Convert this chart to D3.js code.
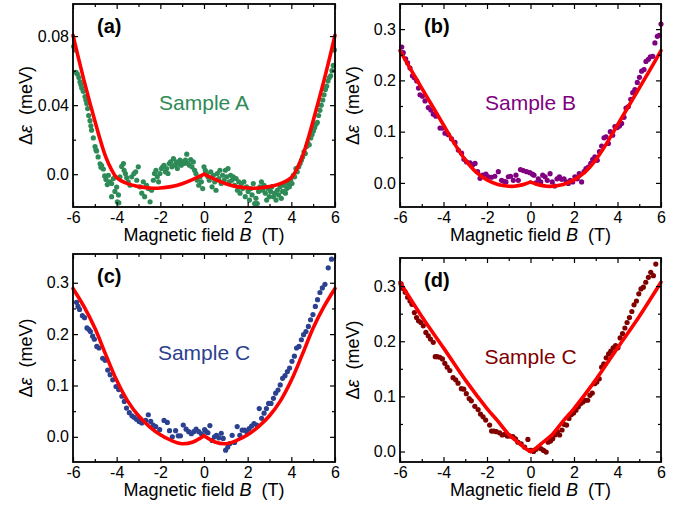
<!DOCTYPE html>
<html>
<head>
<meta charset="utf-8">
<script src="https://cdn.jsdelivr.net/npm/d3@7"></script>
<style>
  html, body { margin: 0; padding: 0; background: #fff; }
  svg { display: block; font-family: "Liberation Sans", Arial, Helvetica, sans-serif; }
</style>
</head>
<body>
<svg id="chart" width="677" height="509"></svg>
<script>
/* ---------- tick values ---------- */
const xMajor = [-6, -4, -2, 0, 2, 4, 6];
const xMinor = [-5, -3, -1, 1, 3, 5];
const yMajorA = [0, 0.04, 0.08];
const yMinorA = [0.02, 0.06];
const yLabelsA = ["0.0", "0.04", "0.08"];
const yMajorBCD = [0, 0.1, 0.2, 0.3];
const yMinorBCD = [0.05, 0.15, 0.25];
const yLabelsBCD = ["0.0", "0.1", "0.2", "0.3"];

/* ---------- measured points [B (T), delta eps (meV)] ---------- */
const sampleA = [
  [-5.97,0.074],[-5.91,0.072],[-5.86,0.059],[-5.80,0.058],[-5.73,0.056],[-5.68,0.0535],[-5.64,0.052],[-5.60,0.050],
  [-5.53,0.048],[-5.45,0.045],[-5.41,0.043],[-5.37,0.041],[-5.33,0.038],[-5.28,0.034],[-5.22,0.031],[-5.18,0.028],
  [-5.15,0.0255],[-5.07,0.021],[-4.99,0.016],[-4.95,0.014],[-4.92,0.0135],[-4.85,0.010],[-4.76,0.006],[-4.72,0.004],
  [-4.69,0.005],[-4.61,0.003],[-4.55,-0.001],[-4.49,-0.003],[-4.43,-0.006],[-4.38,-0.0006],[-4.31,-0.0045],[-4.23,-0.0054],
  [-4.23,-0.013],[-4.15,-0.0025],[-4.08,-0.010],[-4.0,-0.0074],[-3.97,-0.016],[-3.92,-0.012],[-3.90,-0.0166],[-3.85,-0.0015],
  [-3.77,0.0045],[-3.69,0.0062],[-3.66,0.0023],[-3.60,0.0004],[-3.54,-0.002],[-3.47,-0.0045],[-3.39,-0.0064],[-3.31,-0.0015],
  [-3.21,0.0004],[-3.13,0.0014],[-3.08,-0.0035],[-3.01,0.0043],[-2.93,-0.0073],[-2.85,-0.011],[-2.78,-0.0044],[-2.72,-0.013],
  [-2.63,-0.0064],[-2.55,-0.0083],[-2.47,-0.016],[-2.40,-0.0093],[-2.32,-0.0035],[-2.27,0.0004],[-2.20,0.0023],[-2.14,-0.0015],
  [-2.08,-0.0044],[-2.02,0.0004],[-1.95,0.0033],[-1.89,0.0043],[-1.83,0.0052],[-1.77,0.0014],[-1.71,0.0033],[-1.65,0.0004],
  [-1.59,0.0062],[-1.53,0.0071],[-1.47,0.0043],[-1.40,0.0091],[-1.34,0.0052],[-1.28,0.0071],[-1.22,0.0033],[-1.16,0.0062],
  [-1.10,0.0081],[-1.04,0.0052],[-0.98,0.0071],[-0.92,0.0062],[-0.85,0.0081],[-0.79,0.0116],[-0.73,0.0062],[-0.67,0.0052],
  [-0.61,0.0085],[-0.55,0.0043],[-0.49,0.0071],[-0.43,0.0023],[-0.37,0.0004],[-0.31,-0.0035],[-0.24,-0.0064],[-0.18,-0.0015],
  [-0.12,-0.0044],[-0.06,-0.0083],[0.0,0.0043],[0.06,0.0023],[0.12,0.0004],[0.18,-0.0015],[0.24,-0.0035],[0.31,0.0014],
  [0.37,-0.0073],[0.43,-0.0006],[0.49,-0.0044],[0.55,-0.0093],[0.61,0.0004],[0.67,-0.0025],[0.73,0.0023],[0.79,-0.0054],
  [0.85,-0.0006],[0.92,-0.0035],[0.98,0.0023],[1.04,-0.0015],[1.10,0.0033],[1.16,-0.0044],[1.22,-0.0006],[1.28,-0.0035],
  [1.34,-0.0015],[1.40,-0.0064],[1.47,-0.0025],[1.53,-0.0093],[1.59,-0.0044],[1.65,-0.011],[1.71,-0.0054],[1.77,-0.0083],
  [1.83,-0.0044],[1.89,-0.013],[1.95,-0.0073],[2.02,-0.010],[2.08,-0.015],[2.14,-0.0083],[2.20,-0.012],[2.26,-0.0054],
  [2.32,-0.017],[2.38,-0.014],[2.44,-0.017],[2.50,-0.010],[2.56,-0.0073],[2.63,-0.0044],[2.69,-0.0093],[2.75,-0.0064],
  [2.81,-0.011],[2.87,-0.015],[2.93,-0.0083],[2.99,-0.013],[3.05,-0.010],[3.11,-0.0073],[3.18,-0.013],[3.24,-0.011],
  [3.30,-0.015],[3.36,-0.0093],[3.42,-0.012],[3.48,-0.0073],[3.54,-0.014],[3.60,-0.010],[3.66,-0.0064],[3.73,-0.011],
  [3.79,-0.0083],[3.85,-0.0054],[3.91,-0.0073],[3.97,-0.0035],[4.03,-0.0054],[4.09,-0.0006],[4.15,-0.0015],[4.21,0.0033],
  [4.27,0.0014],[4.34,0.0043],[4.40,0.0062],[4.46,0.0081],[4.52,0.010],[4.58,0.013],[4.64,0.012],[4.70,0.016],
  [4.76,0.018],[4.82,0.017],[4.89,0.021],[4.95,0.023],[5.01,0.025],[5.07,0.027],[5.13,0.029],[5.19,0.030],
  [5.25,0.034],[5.31,0.037],[5.37,0.040],[5.44,0.043],[5.50,0.046],[5.56,0.049],[5.62,0.051],[5.68,0.054],
  [5.74,0.056],[5.80,0.057],[5.86,0.060],[5.92,0.063],[5.97,0.072]
];

const sampleB = [
  [-5.92,0.265],[-5.85,0.254],[-5.74,0.242],[-5.65,0.234],[-5.54,0.224],[-5.43,0.209],[-5.34,0.205],[-5.23,0.199],
  [-5.15,0.185],[-5.08,0.172],[-4.97,0.169],[-4.85,0.160],[-4.70,0.147],[-4.58,0.142],[-4.47,0.134],[-4.35,0.130],
  [-4.16,0.107],[-4.04,0.107],[-3.93,0.097],[-3.78,0.094],[-3.63,0.086],[-3.47,0.079],[-3.32,0.064],[-3.17,0.058],
  [-3.06,0.046],[-2.94,0.041],[-2.78,0.039],[-2.66,0.035],[-2.55,0.038],[-2.43,0.022],[-2.32,0.009],[-2.20,0.015],
  [-2.05,0.017],[-1.94,0.012],[-1.79,0.011],[-1.64,0.013],[-1.48,0.022],[-1.33,0.005],[-1.22,0.003],[-1.13,0.002],
  [-1.02,0.012],[-0.92,0.013],[-0.79,0.005],[-0.67,0.015],[-0.56,0.005],[-0.46,0.026],[-0.33,0.024],[-0.18,0.022],
  [-0.03,0.020],[0.09,0.017],[0.16,0.015],[0.25,0.0],[0.36,0.008],[0.47,0.002],[0.56,0.015],[0.67,0.012],
  [0.77,0.005],[0.90,0.018],[1.0,0.002],[1.11,-0.006],[1.22,0.008],[1.33,0.012],[1.43,0.007],[1.54,0.008],
  [1.65,0.002],[1.74,-0.001],[1.83,0.005],[1.94,0.002],[2.04,0.012],[2.15,0.008],[2.24,0.018],[2.35,0.002],
  [2.46,0.022],[2.55,0.028],[2.66,0.031],[2.77,0.038],[2.86,0.046],[2.96,0.051],[3.07,0.044],[3.17,0.061],
  [3.27,0.072],[3.38,0.088],[3.47,0.090],[3.58,0.077],[3.67,0.100],[3.78,0.093],[3.88,0.110],[3.99,0.108],
  [4.09,0.111],[4.19,0.116],[4.30,0.128],[4.39,0.146],[4.50,0.149],[4.61,0.163],[4.70,0.176],[4.80,0.182],
  [4.91,0.196],[5.01,0.206],[5.11,0.218],[5.22,0.221],[5.31,0.237],[5.42,0.241],[5.51,0.246],[5.62,0.247],
  [5.72,0.273],[5.83,0.286],[5.92,0.288],[6.0,0.310]
];

const sampleC = [
  [-5.84,0.262],[-5.77,0.254],[-5.70,0.248],[-5.57,0.236],[-5.47,0.232],[-5.36,0.212],[-5.27,0.209],[-5.20,0.205],
  [-5.10,0.196],[-5.02,0.190],[-4.91,0.176],[-4.81,0.173],[-4.64,0.153],[-4.53,0.149],[-4.41,0.130],[-4.30,0.121],
  [-4.18,0.111],[-4.03,0.098],[-3.91,0.092],[-3.76,0.079],[-3.65,0.069],[-3.55,0.056],[-3.42,0.047],[-3.30,0.041],
  [-3.20,0.038],[-3.09,0.034],[-2.97,0.030],[-2.85,0.027],[-2.67,0.032],[-2.55,0.043],[-2.44,0.030],[-2.33,0.023],
  [-2.21,0.020],[-2.03,0.014],[-1.83,0.032],[-1.68,0.028],[-1.58,0.012],[-1.45,0.0],[-1.30,0.012],[-1.18,0.002],
  [-1.08,0.002],[-0.95,0.023],[-0.82,0.015],[-0.70,0.010],[-0.58,0.006],[-0.47,0.010],[-0.36,0.015],[-0.24,0.010],
  [-0.12,0.006],[0.03,0.014],[0.10,0.010],[0.18,0.008],[0.27,0.022],[0.37,-0.007],[0.48,0.0],[0.57,0.003],
  [0.68,-0.002],[0.79,0.007],[0.88,-0.003],[0.99,-0.026],[1.09,-0.020],[1.19,-0.013],[1.29,0.003],[1.40,-0.011],
  [1.52,0.020],[1.64,0.003],[1.75,0.013],[1.86,0.013],[1.96,0.010],[2.07,0.016],[2.18,0.021],[2.29,0.026],
  [2.41,0.023],[2.53,0.055],[2.64,0.036],[2.75,0.046],[2.86,0.055],[2.96,0.065],[3.07,0.065],[3.18,0.075],
  [3.28,0.085],[3.39,0.091],[3.49,0.101],[3.60,0.114],[3.71,0.119],[3.82,0.127],[3.92,0.134],[4.03,0.147],
  [4.14,0.157],[4.24,0.173],[4.35,0.176],[4.46,0.189],[4.56,0.199],[4.67,0.205],[4.78,0.215],[4.88,0.228],
  [4.99,0.238],[5.10,0.254],[5.20,0.267],[5.31,0.281],[5.42,0.290],[5.54,0.297],[5.69,0.329],[5.84,0.346]
];

const sampleD = [
  [-5.95,0.304],[-5.88,0.296],[-5.76,0.289],[-5.65,0.280],[-5.54,0.273],[-5.45,0.267],[-5.34,0.252],[-5.24,0.243],
  [-5.15,0.237],[-5.04,0.234],[-4.93,0.228],[-4.81,0.216],[-4.70,0.210],[-4.60,0.204],[-4.47,0.198],[-4.38,0.172],
  [-4.29,0.172],[-4.17,0.171],[-4.05,0.168],[-3.94,0.160],[-3.83,0.153],[-3.71,0.147],[-3.56,0.134],[-3.44,0.130],
  [-3.33,0.124],[-3.18,0.114],[-3.07,0.113],[-2.95,0.105],[-2.82,0.096],[-2.72,0.092],[-2.56,0.082],[-2.41,0.076],
  [-2.30,0.068],[-2.18,0.063],[-2.06,0.057],[-1.88,0.048],[-1.79,0.037],[-1.69,0.037],[-1.57,0.036],[-1.42,0.034],
  [-1.30,0.030],[-1.19,0.031],[-1.07,0.028],[-0.96,0.028],[-0.81,0.027],[-0.69,0.023],[-0.58,0.017],[-0.43,0.014],
  [-0.27,0.008],[-0.12,0.022],[-0.02,0.002],[0.05,0.002],[0.14,0.0],[0.26,0.004],[0.38,0.008],[0.49,0.005],
  [0.60,0.002],[0.72,-0.001],[0.81,0.017],[0.92,0.019],[1.02,0.023],[1.13,0.030],[1.24,0.036],[1.34,0.030],
  [1.45,0.039],[1.56,0.049],[1.66,0.048],[1.77,0.060],[1.88,0.067],[1.98,0.070],[2.09,0.075],[2.20,0.081],
  [2.31,0.087],[2.41,0.090],[2.52,0.093],[2.63,0.093],[2.73,0.102],[2.84,0.106],[2.95,0.123],[3.05,0.126],
  [3.16,0.132],[3.27,0.153],[3.37,0.159],[3.48,0.170],[3.59,0.177],[3.69,0.182],[3.80,0.188],[3.91,0.192],
  [4.02,0.188],[4.12,0.206],[4.23,0.214],[4.34,0.224],[4.44,0.234],[4.55,0.243],[4.66,0.254],[4.76,0.266],
  [4.87,0.273],[4.98,0.286],[5.08,0.295],[5.19,0.298],[5.30,0.307],[5.42,0.316],[5.53,0.325],[5.65,0.319],
  [5.76,0.340]
];

/* ---------- fit curves (red) ---------- */
const fitA = [
  [-6,0.0805],[-5.75,0.0672],[-5.5,0.0545],[-5.25,0.0425],[-5,0.031],[-4.75,0.0198],[-4.5,0.010],[-4.25,0.003],
  [-4,-0.002],[-3.5,-0.0055],[-3,-0.0072],[-2.5,-0.008],[-2,-0.008],[-1.5,-0.0072],[-1,-0.0055],[-0.5,-0.003],[0,0],
  [0.5,-0.003],[1,-0.0055],[1.5,-0.0072],[2,-0.008],[2.5,-0.008],[3,-0.0072],[3.5,-0.0055],[4,-0.002],
  [4.25,0.003],[4.5,0.010],[4.75,0.0198],[5,0.031],[5.25,0.0425],[5.5,0.0545],[5.75,0.0672],[6,0.0805]
];
const fitB = [
  [-6,0.258],[-5.5,0.221],[-5,0.185],[-4.5,0.149],[-4,0.113],[-3.5,0.077],[-3,0.045],[-2.5,0.021],[-2,0.006],
  [-1.5,-0.003],[-1,-0.0065],[-0.75,-0.0065],[-0.5,-0.0048],[-0.25,-0.002],[0,0.0015],
  [0.25,-0.002],[0.5,-0.0048],[0.75,-0.0065],[1,-0.0065],[1.5,-0.003],[2,0.006],[2.5,0.021],[3,0.045],
  [3.5,0.077],[4,0.113],[4.5,0.149],[5,0.185],[5.5,0.221],[6,0.258]
];
const fitC = [
  [-6,0.289],[-5.5,0.254],[-5,0.212],[-4.5,0.160],[-4,0.110],[-3.5,0.070],[-3,0.041],[-2.5,0.020],[-2,0.004],
  [-1.5,-0.007],[-1,-0.0135],[-0.5,-0.010],[0,0.002],
  [0.5,-0.010],[1,-0.0135],[1.5,-0.007],[2,0.004],[2.5,0.020],[3,0.041],[3.5,0.070],[4,0.110],[4.5,0.160],
  [5,0.212],[5.5,0.254],[6,0.289]
];
const fitD = [
  [-6,0.307],[-5,0.245],[-4,0.188],[-3,0.130],[-2,0.078],[-1.5,0.055],[-1,0.031],[-0.5,0.0145],[-0.25,0.006],[0,0.0],
  [0.25,0.006],[0.5,0.0145],[1,0.031],[1.5,0.055],[2,0.078],[3,0.130],[4,0.188],[5,0.245],[6,0.307]
];

/* ---------- panel layout ---------- */
const panels = [
  { data: sampleA, fit: fitA, color: "#2e8b57", name: "Sample A", tag: "(a)",
    box: [73, 335, 4, 207], yDomain: [-0.019, 0.0986],
    yMajor: yMajorA, yMinor: yMinorA, yLabels: yLabelsA },
  { data: sampleB, fit: fitB, color: "#800080", name: "Sample B", tag: "(b)",
    box: [400, 661, 4, 207], yDomain: [-0.047, 0.349],
    yMajor: yMajorBCD, yMinor: yMinorBCD, yLabels: yLabelsBCD },
  { data: sampleC, fit: fitC, color: "#2b4190", name: "Sample C", tag: "(c)",
    box: [73, 335, 254, 462], yDomain: [-0.049, 0.356],
    yMajor: yMajorBCD, yMinor: yMinorBCD, yLabels: yLabelsBCD },
  { data: sampleD, fit: fitD, color: "#800000", name: "Sample C", tag: "(d)",
    box: [400, 661, 258, 462], yDomain: [-0.019, 0.351],
    yMajor: yMajorBCD, yMinor: yMinorBCD, yLabels: yLabelsBCD }
];

const svg = d3.select("#chart");

function styleAxis(sel){
  sel.select(".domain").remove();
  sel.attr("font-family", null).attr("font-size", 16);
  sel.selectAll(".tick line").attr("stroke", "#000").attr("stroke-width", 1.2);
  sel.selectAll(".tick text").attr("fill", "#000");
}

function drawPanel(p){
  const [x0, x1, y0, y1] = p.box;
  const x = d3.scaleLinear().domain([-6, 6]).range([x0, x1]);
  const y = d3.scaleLinear().domain(p.yDomain).range([y1, y0]);
  const g = svg.append("g");

  // measured points
  g.append("g").selectAll("circle")
    .data(p.data)
    .join("circle")
      .attr("cx", d => x(d[0]))
      .attr("cy", d => y(d[1]))
      .attr("r", 2.6)
      .attr("fill", p.color);

  // fit: two halves so the cusp at B = 0 stays sharp
  const line = d3.line().x(d => x(d[0])).y(d => y(d[1])).curve(d3.curveCatmullRom);
  [p.fit.filter(d => d[0] <= 0), p.fit.filter(d => d[0] >= 0)].forEach(seg => {
    g.append("path")
      .attr("d", line(seg))
      .attr("fill", "none")
      .attr("stroke", "#ff0000")
      .attr("stroke-width", 3.6)
      .attr("stroke-linecap", "round")
      .attr("stroke-linejoin", "round");
  });

  // ticks on all four sides, pointing inward
  const noLab = () => "";
  g.append("g").attr("transform", `translate(0,${y1})`)
    .call(d3.axisBottom(x).tickValues(xMajor).tickSize(-5).tickPadding(5).tickFormat(d => String(d)))
    .call(styleAxis);
  g.append("g").attr("transform", `translate(0,${y1})`)
    .call(d3.axisBottom(x).tickValues(xMinor).tickSize(-3).tickFormat(noLab)).call(styleAxis);
  g.append("g").attr("transform", `translate(0,${y0})`)
    .call(d3.axisTop(x).tickValues(xMajor).tickSize(-5).tickFormat(noLab)).call(styleAxis);
  g.append("g").attr("transform", `translate(0,${y0})`)
    .call(d3.axisTop(x).tickValues(xMinor).tickSize(-3).tickFormat(noLab)).call(styleAxis);

  g.append("g").attr("transform", `translate(${x0},0)`)
    .call(d3.axisLeft(y).tickValues(p.yMajor).tickSize(-5).tickPadding(4)
      .tickFormat((d, i) => p.yLabels[i]))
    .call(styleAxis);
  g.append("g").attr("transform", `translate(${x0},0)`)
    .call(d3.axisLeft(y).tickValues(p.yMinor).tickSize(-3).tickFormat(noLab)).call(styleAxis);
  g.append("g").attr("transform", `translate(${x1},0)`)
    .call(d3.axisRight(y).tickValues(p.yMajor).tickSize(-5).tickFormat(noLab)).call(styleAxis);
  g.append("g").attr("transform", `translate(${x1},0)`)
    .call(d3.axisRight(y).tickValues(p.yMinor).tickSize(-3).tickFormat(noLab)).call(styleAxis);

  // frame
  g.append("rect")
    .attr("x", x0).attr("y", y0)
    .attr("width", x1 - x0).attr("height", y1 - y0)
    .attr("fill", "none").attr("stroke", "#000").attr("stroke-width", 1.8);

  // panel tag
  g.append("text")
    .attr("x", x0 + 24).attr("y", y0 + 29)
    .attr("font-size", 20).attr("font-weight", "bold")
    .text(p.tag);

  // sample name
  g.append("text")
    .attr("x", (x0 + x1) / 2).attr("y", y0 + 106)
    .attr("text-anchor", "middle")
    .attr("font-size", 21).attr("fill", p.color)
    .text(p.name);

  // x title
  const xt = g.append("text")
    .attr("x", (x0 + x1) / 2).attr("y", y1 + 34)
    .attr("text-anchor", "middle").attr("font-size", 18);
  xt.append("tspan").text("Magnetic field ");
  xt.append("tspan").attr("font-style", "italic").text("B");
  xt.append("tspan").text("\u00a0\u00a0(T)");

  // y title
  const yt = g.append("text")
    .attr("transform", `translate(${x0 - 41},${(y0 + y1) / 2}) rotate(-90)`)
    .attr("text-anchor", "middle").attr("font-size", 18);
  yt.append("tspan").text("\u0394");
  yt.append("tspan").attr("font-style", "italic").text("\u03b5");
  yt.append("tspan").text("\u00a0\u00a0(meV)");
}

panels.forEach(drawPanel);
</script>
</body>
</html>
